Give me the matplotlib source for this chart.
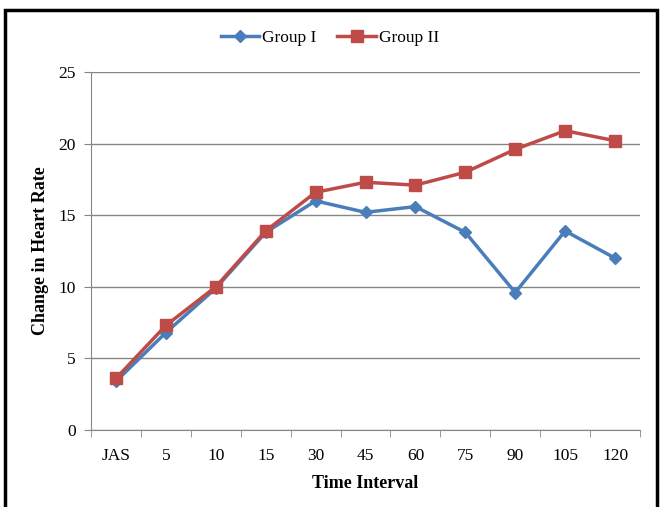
import matplotlib
matplotlib.use("Agg")
import matplotlib.pyplot as plt
from matplotlib.patches import Rectangle
import numpy as np

categories = ["JAS", "5", "10", "15", "30", "45", "60", "75", "90", "105", "120"]
group1 = [3.4, 6.8, 9.9, 13.8, 16.0, 15.2, 15.6, 13.8, 9.6, 13.9, 12.0]
group2 = [3.6, 7.3, 10.0, 13.9, 16.6, 17.3, 17.1, 18.0, 19.6, 20.9, 20.2]

plt.rcParams['font.family'] = ['Liberation Serif', 'DejaVu Serif']

fig = plt.figure(figsize=(6.6, 5.07), dpi=100)
ax = fig.add_axes([91/660, 77/507, 549/660, 358/507])

x = np.arange(len(categories))
ax.plot(x, group1, color="#4A7EBB", lw=2.5, marker="D", ms=6, label="Group I", zorder=3)
ax.plot(x, group2, color="#BE4B48", lw=2.5, marker="s", ms=8, label="Group II", zorder=4)

ax.set_xlim(-0.5, len(categories) - 0.5)
ax.set_ylim(0, 25)
ax.set_yticks([0, 5, 10, 15, 20, 25])
ax.set_xticks(x)
ax.set_xticklabels(categories, fontsize=12.5)
ax.set_xticks(np.arange(-0.5, len(categories)), minor=True)
ax.tick_params(axis="x", which="major", length=0, pad=13)
ax.tick_params(axis="x", which="minor", length=5, color="#868686")
ax.tick_params(axis="y", length=5, color="#868686", labelsize=12.5, pad=6)
ax.grid(axis="y", color="#868686", lw=1)
ax.set_axisbelow(True)
for s in ["top", "right"]:
    ax.spines[s].set_visible(False)
for s in ["left", "bottom"]:
    ax.spines[s].set_color("#868686")

ax.set_xlabel("Time Interval", fontsize=13, fontweight="bold", labelpad=8)
ax.set_ylabel("Change in Heart Rate", fontsize=13, fontweight="bold", labelpad=7)

fig.legend(loc="center", bbox_to_anchor=(0.5, 1 - 38/507), ncol=2, frameon=False,
           fontsize=12.5, handlelength=2.2, columnspacing=1.2, handletextpad=0.2)

fig.patches.append(Rectangle((5/660, -0.01), 652/660, 1 - 10/507 + 0.01, transform=fig.transFigure,
                             fill=False, edgecolor="black", lw=2.5))

fig.savefig("out.png", dpi=100)
